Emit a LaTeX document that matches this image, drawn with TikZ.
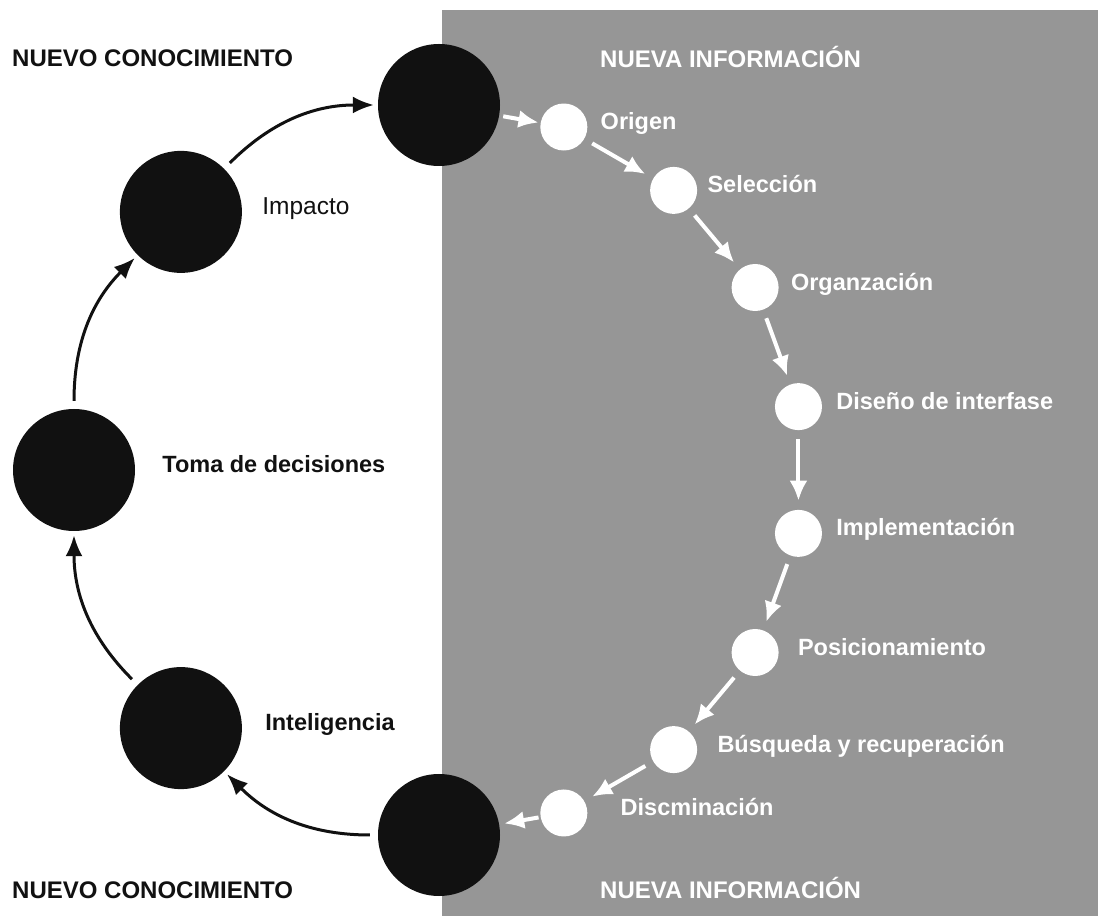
\documentclass[tikz,border=0pt]{standalone}
\usepackage{fontspec}
\setmainfont{Liberation Sans}
\usepackage{tikz}
\usetikzlibrary{arrows.meta,calc,positioning}
\definecolor{panelgray}{RGB}{150,150,150}
\definecolor{dotblack}{RGB}{17,17,17}

\begin{document}
\begin{tikzpicture}[x=1pt,y=1pt,
    bigdot/.style={circle,fill=dotblack,minimum size=122pt,inner sep=0pt},
    smalldot/.style={circle,fill=white,minimum size=47pt,inner sep=0pt},
    blabel/.style={font=\fontsize{23.5}{26}\selectfont\bfseries,text=dotblack,inner sep=0pt,text height=0.72em,text depth=0.2em},
    wlabel/.style={font=\fontsize{23.5}{26}\selectfont\bfseries,text=white,inner sep=0pt,text height=0.72em,text depth=0.2em},
    headline/.style={font=\fontsize{24}{28}\selectfont\bfseries,inner sep=0pt,anchor=base west},
    blackarrow/.style={-{Latex[length=21pt,width=17pt]},line width=3pt,draw=dotblack,bend left=22.5,shorten <=8pt,shorten >=4pt},
    whitearrow/.style={-{Latex[length=20pt,width=18pt]},line width=4pt,draw=white,shorten <=9pt,shorten >=9pt}]
  \useasboundingbox (0,0) rectangle (1098,916);
  % gray panel
  \fill[panelgray] (442,0) rectangle (1098,906);
  \coordinate (c) at (439,446);

  % black cycle
  \node[bigdot] (conocTop) at ($(c)+(90:365)$) {};
  \node[bigdot] (impacto) at ($(c)+(135:365)$) {};
  \node[bigdot] (toma) at ($(c)+(180:365)$) {};
  \node[bigdot] (intel) at ($(c)+(225:365)$) {};
  \node[bigdot] (conocBot) at ($(c)+(270:365)$) {};

  % white cycle
  \node[smalldot] (origen) at ($(c)+(70:365)$) {};
  \node[smalldot] (seleccion) at ($(c)+(50:365)$) {};
  \node[smalldot] (organiz) at ($(c)+(30:365)$) {};
  \node[smalldot] (diseno) at ($(c)+(10:365)$) {};
  \node[smalldot] (implem) at ($(c)+(-10:365)$) {};
  \node[smalldot] (posic) at ($(c)+(-30:365)$) {};
  \node[smalldot] (busqueda) at ($(c)+(-50:365)$) {};
  \node[smalldot] (disemin) at ($(c)+(-70:365)$) {};

  % labels
  \node[blabel, font=\fontsize{24.5}{26}\selectfont, right=20pt of impacto] (impactoLbl) {Impacto};
  \node[blabel, right=27pt of toma] (tomaLbl) {Toma de decisiones};
  \node[blabel, right=23pt of intel] (intelLbl) {Inteligencia};
  \node[wlabel, right=13pt of origen] (origenLbl) {Origen};
  \node[wlabel, right=10pt of seleccion] (seleccionLbl) {Selección};
  \node[wlabel, right=12pt of organiz] (organizLbl) {Organzación};
  \node[wlabel, right=14pt of diseno] (disenoLbl) {Diseño de interfase};
  \node[wlabel, right=14pt of implem] (implemLbl) {Implementación};
  \node[wlabel, right=19pt of posic] (posicLbl) {Posicionamiento};
  \node[wlabel, right=20pt of busqueda] (busquedaLbl) {Búsqueda y recuperación};
  \node[wlabel, right=33pt of disemin] (diseminLbl) {Discminación};

  \node[headline, text=dotblack] (conocTopLbl) at (12,849) {NUEVO CONOCIMIENTO};
  \node[headline, text=dotblack] (conocBotLbl) at (12,18) {NUEVO CONOCIMIENTO};
  \node[headline, text=white] (infoTopLbl) at (600,848) {NUEVA INFORMACIÓN};
  \node[headline, text=white] (infoBotLbl) at (600,17) {NUEVA INFORMACIÓN};

  % black arrows
  \draw[blackarrow] (conocBot) to (intel);
  \draw[blackarrow] (intel) to (toma);
  \draw[blackarrow] (toma) to (impacto);
  \draw[blackarrow] (impacto) to (conocTop);

  % white arrows
  \draw[whitearrow, shorten <=4pt, shorten >=2pt] (conocTop) -- (origen);
  \draw[whitearrow] (origen) -- (seleccion);
  \draw[whitearrow] (seleccion) -- (organiz);
  \draw[whitearrow] (organiz) -- (diseno);
  \draw[whitearrow] (diseno) -- (implem);
  \draw[whitearrow] (implem) -- (posic);
  \draw[whitearrow] (posic) -- (busqueda);
  \draw[whitearrow] (busqueda) -- (disemin);
  \draw[whitearrow, shorten <=2pt, shorten >=5pt] (disemin) -- (conocBot);
\end{tikzpicture}
\end{document}
